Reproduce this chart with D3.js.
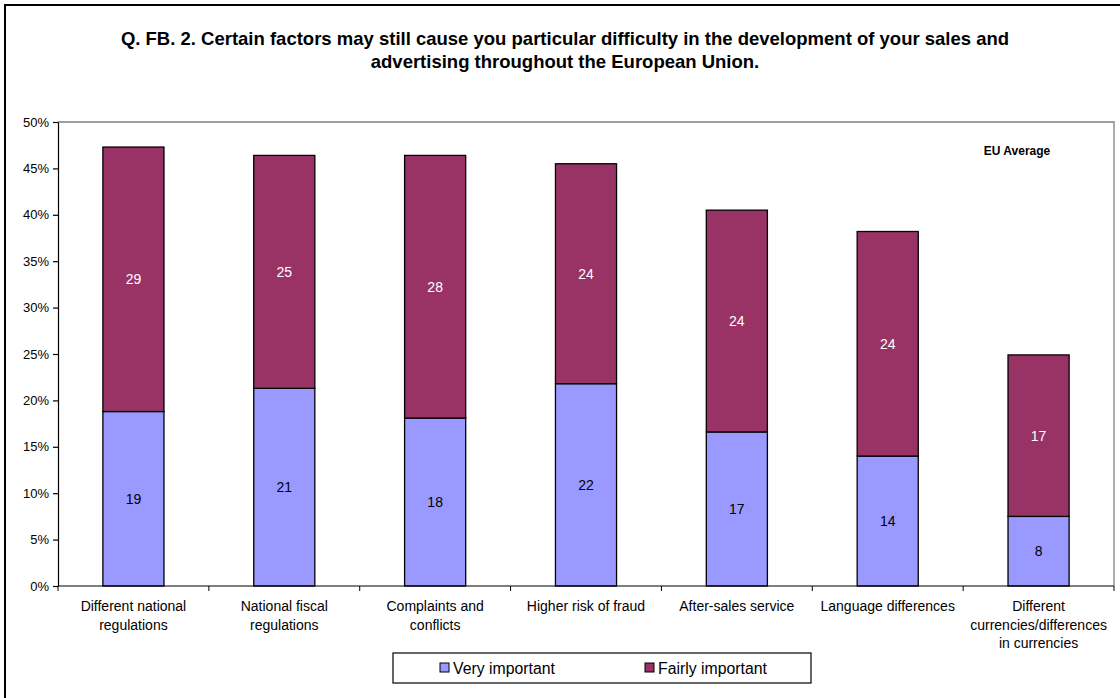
<!DOCTYPE html>
<html><head><meta charset="utf-8">
<script src="https://cdn.jsdelivr.net/npm/d3@7"></script>
<style>html,body{margin:0;padding:0;background:#fff;}svg{display:block;font-family:Arial,"Liberation Sans",sans-serif;}</style>
</head><body>
<svg id="c" width="1120" height="698"></svg>
<script>
const categories = [
  ["Different national","regulations"],
  ["National fiscal","regulations"],
  ["Complaints and","conflicts"],
  ["Higher risk of fraud"],
  ["After-sales service"],
  ["Language differences"],
  ["Different","currencies/differences","in currencies"]
];
const veryImportant = [18.8, 21.3, 18.1, 21.8, 16.6, 14.0, 7.5];
const fairlyImportant = [28.5, 25.1, 28.3, 23.7, 23.9, 24.2, 17.4];
const seriesNames = ["Very important", "Fairly important"];
const yTicks = [0,5,10,15,20,25,30,35,40,45,50];
const titleLines = ["Q. FB. 2. Certain factors may still cause you particular difficulty in the development of your sales and","advertising throughout the European Union."];

const colors = ["#9999FF", "#993366"];
const svg = d3.select("#c");
const L = 58, R = 1114, T = 122, B = 586;

// outer frame
svg.append("rect").attr("x",5).attr("y",5).attr("width",1130).attr("height",710)
  .attr("fill","none").attr("stroke","#000").attr("stroke-width",2);

// title
svg.append("text").attr("x",565).attr("y",44.5).attr("text-anchor","middle")
  .attr("font-size","18.5px").attr("font-weight","bold")
  .selectAll("tspan").data(titleLines).join("tspan")
  .attr("x",565).attr("dy",(d,i)=>i?23:0).text(d=>d);

const x = d3.scaleBand().domain(d3.range(categories.length)).range([L,R]).paddingInner(0.595).paddingOuter(0.2975);
const y = d3.scaleLinear().domain([0,50]).range([B,T]);

// plot border (gray)
svg.append("path").attr("d",`M${L},${T}H${R}V${B}`).attr("fill","none").attr("stroke","#808080").attr("stroke-width",1.3);

// stacked data
const data = categories.map((c,i)=>({i, v:[veryImportant[i], fairlyImportant[i]]}));
const g = svg.append("g");
data.forEach(d=>{
  let base = 0;
  d.v.forEach((val,s)=>{
    g.append("rect").attr("x",x(d.i)).attr("width",x.bandwidth())
      .attr("y",y(base+val)).attr("height",y(base)-y(base+val))
      .attr("fill",colors[s]).attr("stroke","#000").attr("stroke-width",1.3);
    g.append("text").attr("x",x(d.i)+x.bandwidth()/2).attr("y",y(base+val/2)+5)
      .attr("text-anchor","middle").attr("font-size","14px")
      .attr("fill", s ? "#fff" : "#000").text(Math.round(val));
    base += val;
  });
});

// y axis
const yAxis = d3.axisLeft(y).tickValues(yTicks).tickFormat(d=>d+"%").tickSize(5).tickSizeOuter(0);
const ya = svg.append("g").attr("transform",`translate(${L},0)`).call(yAxis);
ya.selectAll("text").attr("font-size","13px").attr("font-family","Arial, 'Liberation Sans', sans-serif").attr("fill","#000").attr("dx","-1");
ya.selectAll("line,path").attr("stroke","#000").attr("stroke-width",1.2);

// x axis baseline and ticks at category boundaries
svg.append("line").attr("x1",L).attr("x2",R).attr("y1",B).attr("y2",B).attr("stroke","#000").attr("stroke-width",1.2);
d3.range(categories.length+1).forEach(k=>{
  const xx = L + k*(R-L)/categories.length;
  svg.append("line").attr("x1",xx).attr("x2",xx).attr("y1",B).attr("y2",B+5).attr("stroke","#000").attr("stroke-width",1);
});
// x labels
categories.forEach((lines,i)=>{
  const cx = x(i)+x.bandwidth()/2;
  svg.append("text").attr("text-anchor","middle").attr("font-size","14px")
    .selectAll("tspan").data(lines).join("tspan")
    .attr("x",cx).attr("y",(d,j)=>611+j*18.7).text(d=>d);
});

// EU Average
svg.append("text").attr("x",1017).attr("y",155).attr("text-anchor","middle")
  .attr("font-size","12px").attr("font-weight","bold").text("EU Average");

// legend
const lg = svg.append("g");
lg.append("rect").attr("x",393).attr("y",653).attr("width",418).attr("height",30)
  .attr("fill","#fff").attr("stroke","#000").attr("stroke-width",1.2);
const lx = [440, 645];
seriesNames.forEach((n,i)=>{
  lg.append("rect").attr("x",lx[i]).attr("y",663).attr("width",9).attr("height",9)
    .attr("fill",colors[i]).attr("stroke","#000").attr("stroke-width",1);
  lg.append("text").attr("x",lx[i]+13).attr("y",674).attr("font-size","15.8px").text(n);
});
</script>
</body></html>
